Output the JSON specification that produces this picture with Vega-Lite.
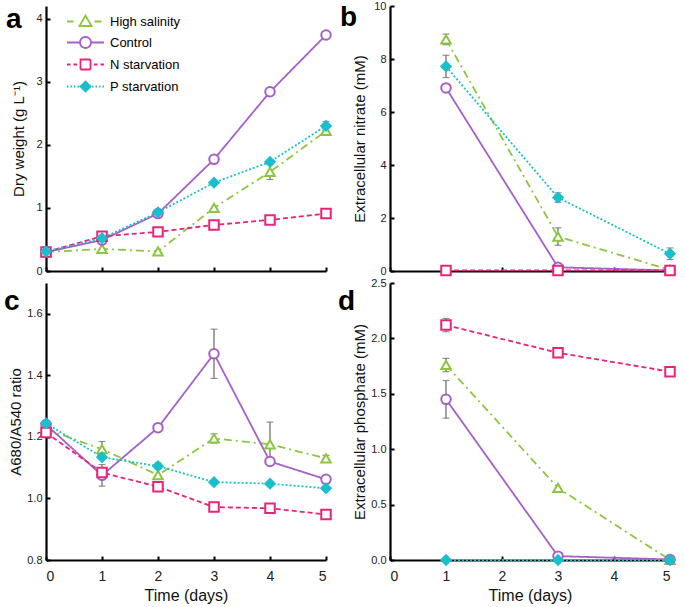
{
  "$schema": "https://vega.github.io/schema/vega-lite/v6.json",
  "padding": {"left": 4, "top": 0, "right": 4, "bottom": 2},
  "background": "white",
  "datasets": {
    "dw": [
      {"series": "High salinity", "day": 0, "value": 0.30},
      {"series": "High salinity", "day": 1, "value": 0.35},
      {"series": "High salinity", "day": 2, "value": 0.31},
      {"series": "High salinity", "day": 3, "value": 1.00},
      {"series": "High salinity", "day": 4, "value": 1.57, "lo": 1.45, "hi": 1.69},
      {"series": "High salinity", "day": 5, "value": 2.22},
      {"series": "Control", "day": 0, "value": 0.30},
      {"series": "Control", "day": 1, "value": 0.49},
      {"series": "Control", "day": 2, "value": 0.91},
      {"series": "Control", "day": 3, "value": 1.77},
      {"series": "Control", "day": 4, "value": 2.84},
      {"series": "Control", "day": 5, "value": 3.74},
      {"series": "N starvation", "day": 0, "value": 0.30},
      {"series": "N starvation", "day": 1, "value": 0.55},
      {"series": "N starvation", "day": 2, "value": 0.62},
      {"series": "N starvation", "day": 3, "value": 0.73},
      {"series": "N starvation", "day": 4, "value": 0.81},
      {"series": "N starvation", "day": 5, "value": 0.91},
      {"series": "P starvation", "day": 0, "value": 0.31},
      {"series": "P starvation", "day": 1, "value": 0.52},
      {"series": "P starvation", "day": 2, "value": 0.93},
      {"series": "P starvation", "day": 3, "value": 1.40},
      {"series": "P starvation", "day": 4, "value": 1.73},
      {"series": "P starvation", "day": 5, "value": 2.30, "lo": 2.23, "hi": 2.37}
    ],
    "nit": [
      {"series": "High salinity", "day": 1, "value": 8.74, "lo": 8.54, "hi": 8.94},
      {"series": "High salinity", "day": 3, "value": 1.30, "lo": 0.97, "hi": 1.63},
      {"series": "High salinity", "day": 5, "value": 0.04},
      {"series": "Control", "day": 1, "value": 6.91},
      {"series": "Control", "day": 3, "value": 0.14},
      {"series": "Control", "day": 5, "value": 0.02},
      {"series": "N starvation", "day": 1, "value": 0.02},
      {"series": "N starvation", "day": 3, "value": 0.02},
      {"series": "N starvation", "day": 5, "value": 0.02},
      {"series": "P starvation", "day": 1, "value": 7.72, "lo": 7.30, "hi": 8.14},
      {"series": "P starvation", "day": 3, "value": 2.77, "lo": 2.59, "hi": 2.95},
      {"series": "P starvation", "day": 5, "value": 0.65, "lo": 0.43, "hi": 0.87}
    ],
    "ratio": [
      {"series": "High salinity", "day": 0, "value": 1.225},
      {"series": "High salinity", "day": 1, "value": 1.16, "lo": 1.135, "hi": 1.185},
      {"series": "High salinity", "day": 2, "value": 1.076},
      {"series": "High salinity", "day": 3, "value": 1.195, "lo": 1.18, "hi": 1.21},
      {"series": "High salinity", "day": 4, "value": 1.176},
      {"series": "High salinity", "day": 5, "value": 1.13, "lo": 1.12, "hi": 1.14},
      {"series": "Control", "day": 0, "value": 1.24},
      {"series": "Control", "day": 1, "value": 1.075, "lo": 1.04, "hi": 1.11},
      {"series": "Control", "day": 2, "value": 1.23},
      {"series": "Control", "day": 3, "value": 1.47, "lo": 1.39, "hi": 1.55},
      {"series": "Control", "day": 4, "value": 1.12, "lo": 1.12, "hi": 1.248},
      {"series": "Control", "day": 5, "value": 1.062},
      {"series": "N starvation", "day": 0, "value": 1.214},
      {"series": "N starvation", "day": 1, "value": 1.084},
      {"series": "N starvation", "day": 2, "value": 1.038},
      {"series": "N starvation", "day": 3, "value": 0.972},
      {"series": "N starvation", "day": 4, "value": 0.968},
      {"series": "N starvation", "day": 5, "value": 0.948},
      {"series": "P starvation", "day": 0, "value": 1.244},
      {"series": "P starvation", "day": 1, "value": 1.134},
      {"series": "P starvation", "day": 2, "value": 1.105, "lo": 1.095, "hi": 1.115},
      {"series": "P starvation", "day": 3, "value": 1.053},
      {"series": "P starvation", "day": 4, "value": 1.048},
      {"series": "P starvation", "day": 5, "value": 1.033}
    ],
    "phos": [
      {"series": "High salinity", "day": 1, "value": 1.76, "lo": 1.70, "hi": 1.82},
      {"series": "High salinity", "day": 3, "value": 0.65},
      {"series": "High salinity", "day": 5, "value": 0.0},
      {"series": "Control", "day": 1, "value": 1.45, "lo": 1.28, "hi": 1.62},
      {"series": "Control", "day": 3, "value": 0.035},
      {"series": "Control", "day": 5, "value": 0.005},
      {"series": "N starvation", "day": 1, "value": 2.12, "lo": 2.06, "hi": 2.18},
      {"series": "N starvation", "day": 3, "value": 1.87},
      {"series": "N starvation", "day": 5, "value": 1.70},
      {"series": "P starvation", "day": 1, "value": 0.0},
      {"series": "P starvation", "day": 3, "value": 0.0},
      {"series": "P starvation", "day": 5, "value": 0.0}
    ]
  },
  "columns": 2,
  "spacing": {"row": -3, "column": 3},
  "concat": [
    {
      "width": 280, "height": 265,
      "data": {"name": "dw"},
      "encoding": {
        "x": {"field": "day", "type": "quantitative", "scale": {"domain": [0, 5], "nice": false}, "axis": {"values": [0, 1, 2, 3, 4, 5], "labels": false, "title": null}},
        "y": {"field": "value", "type": "quantitative", "scale": {"domain": [0, 4.2], "nice": false, "zero": false}, "axis": {"values": [0, 1, 2, 3, 4], "title": "Dry weight (g L⁻¹)", "titlePadding": 9}},
        "color": {"field": "series", "type": "nominal", "scale": {"domain": ["High salinity", "Control", "N starvation", "P starvation"], "range": ["#8CC63F", "#A65FC6", "#E8237A", "#1ABFCB"]},
          "legend": {"title": null, "orient": "none", "legendX": 33, "legendY": 9, "symbolSize": 100, "labelFontSize": 13, "labelColor": "black", "labelOffset": 18, "rowPadding": 3, "symbolStrokeWidth": 1.8,
            "encode": {"symbols": {"update": {"strokeDash": {"value": [1, 0]}, "opacity": {"value": 1}}}}}}
      },
      "layer": [
        {"transform": [{"filter": "isValid(datum.lo)"}], "mark": {"type": "errorbar", "ticks": true, "size": 7, "thickness": 1.2, "color": "#666666"},
          "encoding": {"y": {"field": "lo", "type": "quantitative", "scale": {"domain": [0, 4.2], "nice": false, "zero": false}, "title": "Dry weight (g L⁻¹)"}, "y2": {"field": "hi"}, "color": {"value": "#666666"}}},
        {"mark": {"type": "line", "strokeWidth": 1.8}, "encoding": {"strokeDash": {"condition": [{"test": "datum.series == 'High salinity'", "value": [8, 4, 2, 4]}, {"test": "datum.series == 'N starvation'", "value": [5, 3]}, {"test": "datum.series == 'P starvation'", "value": [2, 2]}], "value": [1, 0]}}},
        {"mark": {"type": "point", "filled": false, "strokeWidth": 2, "size": 90, "opacity": 1},
          "encoding": {"shape": {"condition": [{"test": "datum.series == 'High salinity'", "value": "triangle-up"}, {"test": "datum.series == 'Control'", "value": "circle"}, {"test": "datum.series == 'N starvation'", "value": "square"}], "value": "diamond"},
            "fill": {"condition": {"test": "datum.series == 'P starvation'", "value": "#1ABFCB"}, "value": "white"}}},
        {"mark": {"type": "point", "filled": false, "opacity": 0, "size": 10},
          "encoding": {"shape": {"field": "series", "type": "nominal", "scale": {"domain": ["High salinity", "Control", "N starvation", "P starvation"], "range": [
              "M-3.7,0H-2.4M1.8,0H3.2M0,-1.2L1.2,0.9L-1.2,0.9Z",
              "M-3.7,0H-1.1M1.1,0H3.7M1.1,0A1.1,1.1,0,1,0,-1.1,0A1.1,1.1,0,1,0,1.1,0Z",
              "M-3.7,0H-3M-2.4,0H-1.7M1.7,0H2.4M3,0H3.7M-1,-1H1V1H-1Z",
              "M-3.7,0H-3.4M-3,0H-2.7M-2.3,0H-2M-1.6,0H-1.3M1.3,0H1.6M2,0H2.3M2.7,0H3M3.4,0H3.7M0,-1L1,0L0,1L-1,0Z"]}},
            "fill": {"field": "series", "type": "nominal", "scale": {"domain": ["High salinity", "Control", "N starvation", "P starvation"], "range": ["white", "white", "white", "#1ABFCB"]}}}},
        {"transform": [{"filter": "datum.series == 'Control' && datum.day == 1"}], "mark": {"type": "text", "text": "a", "fontSize": 28, "fontWeight": "bold", "align": "left", "baseline": "alphabetic", "dx": -40, "dy": 22, "color": "black"},
          "encoding": {"x": {"datum": 0}, "y": {"datum": 4.2}, "color": {"value": "black"}}}
      ]
    },
    {
      "width": 280, "height": 265,
      "data": {"name": "nit"},
      "encoding": {
        "x": {"field": "day", "type": "quantitative", "scale": {"domain": [0, 5], "nice": false}, "axis": {"values": [0, 1, 2, 3, 4, 5], "labels": false, "title": null}},
        "y": {"field": "value", "type": "quantitative", "scale": {"domain": [0, 10], "nice": false}, "axis": {"values": [0, 2, 4, 6, 8, 10], "title": "Extracellular nitrate (mM)", "titlePadding": 6}},
        "color": {"field": "series", "type": "nominal", "scale": {"domain": ["High salinity", "Control", "N starvation", "P starvation"], "range": ["#8CC63F", "#A65FC6", "#E8237A", "#1ABFCB"]}, "legend": null}
      },
      "layer": [
        {"transform": [{"filter": "isValid(datum.lo)"}], "mark": {"type": "errorbar", "ticks": true, "size": 7, "thickness": 1.2, "color": "#666666"},
          "encoding": {"y": {"field": "lo", "type": "quantitative", "scale": {"domain": [0, 10], "nice": false}, "title": "Extracellular nitrate (mM)"}, "y2": {"field": "hi"}, "color": {"value": "#666666"}}},
        {"mark": {"type": "line", "strokeWidth": 1.8}, "encoding": {"strokeDash": {"condition": [{"test": "datum.series == 'High salinity'", "value": [8, 4, 2, 4]}, {"test": "datum.series == 'N starvation'", "value": [5, 3]}, {"test": "datum.series == 'P starvation'", "value": [2, 2]}], "value": [1, 0]}}},
        {"mark": {"type": "point", "filled": false, "strokeWidth": 2, "size": 90, "opacity": 1},
          "encoding": {"shape": {"condition": [{"test": "datum.series == 'High salinity'", "value": "triangle-up"}, {"test": "datum.series == 'Control'", "value": "circle"}, {"test": "datum.series == 'N starvation'", "value": "square"}], "value": "diamond"},
            "fill": {"condition": {"test": "datum.series == 'P starvation'", "value": "#1ABFCB"}, "value": "white"}}},
        {"transform": [{"filter": "datum.series == 'Control' && datum.day == 1"}], "mark": {"type": "text", "text": "b", "fontSize": 28, "fontWeight": "bold", "align": "left", "baseline": "alphabetic", "dx": -50, "dy": 20, "color": "black"},
          "encoding": {"x": {"datum": 0}, "y": {"datum": 10}, "color": {"value": "black"}}}
      ]
    },
    {
      "width": 280, "height": 277,
      "data": {"name": "ratio"},
      "encoding": {
        "x": {"field": "day", "type": "quantitative", "scale": {"domain": [0, 5], "nice": false}, "axis": {"values": [0, 1, 2, 3, 4, 5], "title": "Time (days)"}},
        "y": {"field": "value", "type": "quantitative", "scale": {"domain": [0.8, 1.7], "nice": false, "zero": false}, "axis": {"values": [0.8, 1.0, 1.2, 1.4, 1.6], "format": ".1f", "title": "A680/A540 ratio", "titlePadding": 3}},
        "color": {"field": "series", "type": "nominal", "scale": {"domain": ["High salinity", "Control", "N starvation", "P starvation"], "range": ["#8CC63F", "#A65FC6", "#E8237A", "#1ABFCB"]}, "legend": null}
      },
      "layer": [
        {"transform": [{"filter": "isValid(datum.lo)"}], "mark": {"type": "errorbar", "ticks": true, "size": 7, "thickness": 1.2, "color": "#666666"},
          "encoding": {"y": {"field": "lo", "type": "quantitative", "scale": {"domain": [0.8, 1.7], "nice": false, "zero": false}, "title": "A680/A540 ratio"}, "y2": {"field": "hi"}, "color": {"value": "#666666"}}},
        {"mark": {"type": "line", "strokeWidth": 1.8}, "encoding": {"strokeDash": {"condition": [{"test": "datum.series == 'High salinity'", "value": [8, 4, 2, 4]}, {"test": "datum.series == 'N starvation'", "value": [5, 3]}, {"test": "datum.series == 'P starvation'", "value": [2, 2]}], "value": [1, 0]}}},
        {"mark": {"type": "point", "filled": false, "strokeWidth": 2, "size": 90, "opacity": 1},
          "encoding": {"shape": {"condition": [{"test": "datum.series == 'High salinity'", "value": "triangle-up"}, {"test": "datum.series == 'Control'", "value": "circle"}, {"test": "datum.series == 'N starvation'", "value": "square"}], "value": "diamond"},
            "fill": {"condition": {"test": "datum.series == 'P starvation'", "value": "#1ABFCB"}, "value": "white"}}},
        {"transform": [{"filter": "datum.series == 'Control' && datum.day == 1"}], "mark": {"type": "text", "text": "c", "fontSize": 28, "fontWeight": "bold", "align": "left", "baseline": "alphabetic", "dx": -42, "dy": 27, "color": "black"},
          "encoding": {"x": {"datum": 0}, "y": {"datum": 1.7}, "color": {"value": "black"}}}
      ]
    },
    {
      "width": 280, "height": 277,
      "data": {"name": "phos"},
      "encoding": {
        "x": {"field": "day", "type": "quantitative", "scale": {"domain": [0, 5], "nice": false}, "axis": {"values": [0, 1, 2, 3, 4, 5], "title": "Time (days)"}},
        "y": {"field": "value", "type": "quantitative", "scale": {"domain": [0, 2.5], "nice": false}, "axis": {"values": [0, 0.5, 1.0, 1.5, 2.0, 2.5], "format": ".1f", "title": "Extracellular phosphate (mM)", "titlePadding": 3}},
        "color": {"field": "series", "type": "nominal", "scale": {"domain": ["High salinity", "Control", "N starvation", "P starvation"], "range": ["#8CC63F", "#A65FC6", "#E8237A", "#1ABFCB"]}, "legend": null}
      },
      "layer": [
        {"transform": [{"filter": "isValid(datum.lo)"}], "mark": {"type": "errorbar", "ticks": true, "size": 7, "thickness": 1.2, "color": "#666666"},
          "encoding": {"y": {"field": "lo", "type": "quantitative", "scale": {"domain": [0, 2.5], "nice": false}, "title": "Extracellular phosphate (mM)"}, "y2": {"field": "hi"}, "color": {"value": "#666666"}}},
        {"mark": {"type": "line", "strokeWidth": 1.8}, "encoding": {"strokeDash": {"condition": [{"test": "datum.series == 'High salinity'", "value": [8, 4, 2, 4]}, {"test": "datum.series == 'N starvation'", "value": [5, 3]}, {"test": "datum.series == 'P starvation'", "value": [2, 2]}], "value": [1, 0]}}},
        {"mark": {"type": "point", "filled": false, "strokeWidth": 2, "size": 90, "opacity": 1},
          "encoding": {"shape": {"condition": [{"test": "datum.series == 'High salinity'", "value": "triangle-up"}, {"test": "datum.series == 'Control'", "value": "circle"}, {"test": "datum.series == 'N starvation'", "value": "square"}], "value": "diamond"},
            "fill": {"condition": {"test": "datum.series == 'P starvation'", "value": "#1ABFCB"}, "value": "white"}}},
        {"transform": [{"filter": "datum.series == 'Control' && datum.day == 1"}], "mark": {"type": "text", "text": "d", "fontSize": 28, "fontWeight": "bold", "align": "left", "baseline": "alphabetic", "dx": -52, "dy": 27, "color": "black"},
          "encoding": {"x": {"datum": 0}, "y": {"datum": 2.5}, "color": {"value": "black"}}}
      ]
    }
  ],
  "config": {
    "font": "Liberation Sans",
    "view": {"stroke": null},
    "axis": {"domainColor": "black", "domainWidth": 2.2, "tickColor": "black", "tickWidth": 2, "tickSize": -4, "grid": false, "labelColor": "#222222", "titleColor": "#111111", "titleFontWeight": "normal"},
    "axisY": {"labelFontSize": 11, "titleFontSize": 15, "labelPadding": 8},
    "axisX": {"labelFontSize": 14, "titleFontSize": 16, "labelPadding": 13, "titlePadding": 4}
  }
}
